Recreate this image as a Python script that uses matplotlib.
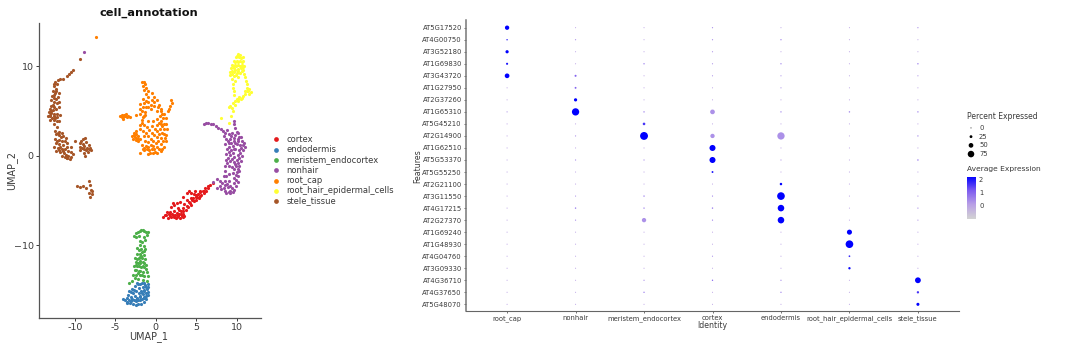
import matplotlib
matplotlib.use('Agg')
import matplotlib.pyplot as plt
import numpy as np
from matplotlib.colors import LinearSegmentedColormap

# UMAP clusters, points (x, y)
cortex = [(0.95,-6.9),(1.3,-6.6),(1.5,-6.95),(1.4,-6.3),(1.7,-6.7),(1.9,-6.9),(1.8,-6.3),(1.9,-5.7),(2.0,-6.5),(2.2,-6.8),
          (2.2,-6.2),(2.3,-5.5),(2.4,-6.6),(2.5,-7.0),(2.6,-6.4),(2.7,-5.9),(2.8,-6.8),(2.9,-6.5),(3.0,-7.0),(3.1,-6.2),
          (3.2,-6.7),(3.3,-5.9),(3.4,-6.5),(3.5,-6.8),(3.5,-5.4),(3.0,-5.2),(2.6,-5.3),(3.7,-6.1),(3.8,-4.2),(4.0,-5.7),
          (4.1,-4.0),(4.2,-5.3),(4.4,-4.2),(4.4,-5.5),(4.5,-4.9),(4.7,-5.1),(4.7,-4.3),(4.9,-4.6),(5.0,-4.9),(5.2,-4.3),
          (5.3,-4.7),(5.5,-4.1),(5.6,-4.4),(5.8,-3.9),(5.9,-4.2),(6.1,-3.6),(6.2,-3.9),(6.4,-3.4),(6.7,-3.3),(7.0,-3.1),
          (4.8,-4.0),(5.4,-3.9),(3.8,-5.0),(3.4,-4.6),(4.3,-4.7),(1.1,-6.6),(2.1,-5.3),(5.0,-4.4),
          (1.6,-6.5),(2.1,-6.6),(2.3,-6.9),(2.7,-6.6),(2.6,-6.9),(3.1,-6.5),(3.3,-6.9),(2.9,-6.1),(3.4,-6.2),(3.8,-5.6),
          (4.1,-5.2),(4.6,-4.7),(5.1,-4.6),(5.5,-4.5),(6.0,-3.9),(6.5,-3.6)]
endodermis = [(-4.0,-16.0),(-3.8,-16.2),(-3.6,-15.9),(-3.5,-16.4),(-3.4,-15.6),(-3.3,-16.1),(-3.2,-16.5),(-3.1,-15.2),(-3.0,-15.8),(-3.0,-16.3),
              (-2.9,-14.9),(-2.8,-16.6),(-2.8,-15.4),(-2.7,-16.1),(-2.6,-14.6),(-2.6,-15.7),(-2.5,-16.7),(-2.4,-15.1),(-2.4,-16.3),(-2.3,-14.3),
              (-2.3,-15.9),(-2.2,-16.6),(-2.1,-14.8),(-2.1,-15.4),(-2.0,-16.2),(-1.9,-15.7),(-1.9,-14.4),(-1.8,-16.6),(-1.8,-15.1),(-1.7,-16.0),
              (-1.6,-14.7),(-1.6,-15.5),(-1.5,-16.4),(-1.4,-15.1),(-1.4,-15.8),(-1.3,-14.5),(-1.2,-16.0),(-1.2,-15.4),(-1.1,-14.9),(-1.0,-15.2),
              (-1.0,-14.4),(-0.9,-14.7),(-3.3,-15.1),(-2.7,-15.0),(-2.2,-14.4),(-0.95,-15.6),(-1.5,-14.2),(-3.6,-16.5),
              (-2.9,-16.0),(-2.5,-16.1),(-2.2,-16.2),(-2.0,-15.8),(-1.7,-15.4),(-1.5,-15.0),(-1.2,-14.7),(-1.5,-15.9),(-1.2,-15.7),(-1.7,-14.3)]
meristem = [(-2.7,-9.0),(-2.5,-8.7),(-2.4,-9.1),(-2.2,-8.5),(-2.0,-8.4),(-1.8,-8.3),(-1.6,-8.3),(-1.4,-8.4),(-1.2,-8.5),(-1.0,-8.5),
            (-2.1,-9.0),(-1.1,-8.9),(-1.4,-9.1),(-1.3,-9.4),(-2.0,-9.5),(-1.7,-9.7),(-2.0,-10.0),(-1.5,-10.1),(-1.8,-10.4),(-2.1,-10.6),
            (-1.5,-10.7),(-2.3,-11.0),(-1.9,-11.0),(-1.4,-11.1),(-2.6,-11.4),(-2.1,-11.5),(-1.7,-11.5),(-1.3,-11.6),(-2.5,-11.9),(-2.0,-12.0),
            (-1.5,-12.0),(-1.2,-12.2),(-2.7,-12.3),(-2.3,-12.4),(-1.8,-12.5),(-1.4,-12.5),(-2.6,-12.8),(-2.1,-12.9),(-1.6,-13.0),(-1.1,-13.0),
            (-2.8,-13.3),(-2.4,-13.3),(-1.9,-13.4),(-1.4,-13.5),(-1.0,-13.5),(-2.6,-13.7),(-2.2,-13.8),(-1.6,-13.9),(-1.1,-14.0),(-3.3,-14.2),
            (-2.9,-14.0),(-1.3,-10.4),(-2.3,-10.3),(-1.6,-11.9),(-2.2,-12.0),(-1.9,-12.9),(-1.2,-12.7),(-2.4,-12.8),
            (-1.8,-11.2),(-2.3,-11.6),(-1.9,-11.8),(-2.1,-12.4),(-2.5,-12.2),(-1.6,-12.3),(-1.7,-10.8),(-2.0,-11.3),(-1.7,-13.3),(-2.2,-13.1)]
nonhair = [(5.9,3.6),(6.2,3.7),(6.5,3.65),(6.8,3.6),(7.1,3.5),(7.4,3.35),(7.7,3.15),(8.0,3.0),(8.3,2.8),(8.6,2.55),(8.4,2.2),(8.8,2.9),
           (9.6,3.9),(9.7,3.5),(9.8,3.1),(10.0,2.7),(9.0,2.4),(9.4,2.6),(9.8,2.3),(10.2,2.5),(10.5,2.1),(8.7,1.9),(9.2,1.9),(9.7,1.7),
           (10.1,1.9),(10.6,1.6),(8.6,1.3),(9.0,1.4),(9.5,1.1),(10.0,1.3),(10.4,1.2),(10.9,1.4),(11.0,1.0),(8.8,0.8),(9.3,0.6),(9.8,0.7),
           (10.3,0.6),(10.7,0.6),(8.7,0.2),(9.2,0.1),(9.6,-0.1),(10.1,0.1),(10.6,0.0),(8.7,-0.5),(9.1,-0.6),(9.6,-0.7),(10.0,-0.5),(10.5,-0.6),
           (8.6,-1.1),(9.0,-1.2),(9.4,-1.3),(9.9,-1.2),(10.3,-1.2),(8.5,-1.7),(9.0,-2.0),(9.5,-1.9),(10.0,-1.8),(10.3,-1.7),(8.4,-2.3),(9.6,-2.5),
           (10.2,-2.3),(8.5,-2.8),(9.0,-2.8),(9.6,-3.0),(10.1,-2.9),(7.1,-2.9),(7.5,-2.6),(7.9,-2.8),(8.2,-3.1),(8.6,-3.3),(9.2,-3.4),(9.9,-3.4),
           (7.6,-3.6),(8.1,-3.7),(8.6,-3.9),(9.1,-3.9),(9.6,-3.8),(8.7,-4.2),(9.2,-4.2),(9.5,-4.1),(8.9,-3.5),(-8.8,11.6),
           (9.3,2.2),(9.6,2.0),(10.3,2.1),(8.9,1.6),(9.3,1.4),(9.8,1.4),(10.2,1.6),(10.7,1.2),(9.0,1.0),(9.6,0.8),(10.5,0.9),(9.0,0.4),
           (9.5,0.3),(10.4,0.3),(8.9,-0.2),(9.4,-0.4),(10.3,-0.2),(8.8,-0.8),(9.8,-0.9),(10.2,-0.8),(9.7,-1.5),(10.1,-1.5),(8.7,-2.3),(9.9,-2.2),
           (9.9,-2.7),(8.8,-3.2),(9.4,-3.6),(8.4,-3.6),(7.9,-3.4),(9.0,-4.1)]
root_cap = [(-1.7,8.2),(-1.5,8.2),(-1.3,8.0),(-1.6,7.8),(-1.2,7.6),(-1.4,7.4),(-0.9,7.3),(-0.5,7.0),(-1.2,6.9),(-0.2,6.6),(-0.9,6.6),(-1.6,6.4),
            (0.1,6.2),(-0.5,6.2),(-1.2,6.1),(-1.9,5.8),(0.4,5.7),(-0.2,5.6),(-0.9,5.5),(-1.6,5.4),(-2.0,5.2),(0.7,5.2),(0.1,5.0),(-0.6,5.2),
            (-1.3,4.9),(-1.9,4.7),(1.0,4.7),(0.5,4.5),(-1.6,4.3),(1.2,4.2),(0.7,3.9),(0.2,4.1),(-0.4,3.9),(-1.0,3.9),(-1.7,3.7),(1.3,3.6),
            (0.8,3.3),(0.2,3.4),(-0.5,3.3),(-1.1,3.2),(-1.9,3.0),(1.35,3.0),(0.8,2.6),(0.2,2.8),(-0.5,2.6),(-1.2,2.5),(1.3,2.3),(0.7,2.0),
            (0.1,2.1),(-0.6,1.9),(-1.3,1.7),(1.2,1.7),(0.6,1.3),(0.0,1.4),(-0.6,1.2),(-1.2,1.1),(-1.7,1.2),(1.0,1.0),(0.4,0.7),(-0.2,0.7),
            (-0.8,0.6),(-1.4,0.6),(0.7,0.5),(0.2,0.3),(-0.4,0.3),(-1.0,0.25),(-1.9,0.3),(-2.9,2.2),(-2.7,2.6),(-2.8,1.9),(-2.5,2.4),(-2.5,1.8),
            (-2.2,2.2),(-2.2,1.6),(-1.9,1.9),(-2.4,2.8),(-2.0,3.4),(-4.4,4.4),(-4.2,4.6),(-4.0,4.3),(-3.8,4.5),(-3.6,4.3),(-3.4,4.5),(-3.2,4.3),
            (-4.1,4.1),(-3.7,4.7),(-2.5,4.6),(2.0,5.9),(1.9,6.2),(1.8,5.6),(1.6,5.2),(1.5,5.0),(-7.4,13.3),
            (-0.2,6.0),(0.3,5.4),(-0.9,6.0),(-1.5,5.9),(0.8,4.7),(0.6,5.0),(-1.7,5.0),(-1.4,4.4),(0.9,4.2),(0.4,3.7),(1.0,3.6),(1.0,3.0),
            (0.5,3.0),(-1.5,3.4),(-1.6,2.8),(1.0,2.4),(0.4,2.4),(-0.2,2.3),(-0.9,2.2),(0.9,1.6),(0.3,1.7),(-0.3,1.6),(-1.0,1.5),(0.8,0.8),
            (0.1,1.0),(-0.5,0.8),(-1.1,0.7),(-0.1,0.4),(-0.7,0.3),(-1.4,0.9),(-2.6,2.1),(-2.4,2.0),(-2.2,1.9),(-2.7,2.3),(-4.2,4.3),(-3.9,4.6),
            (-0.6,5.7),(-1.2,5.4),(-1.3,4.6),(-1.7,4.0),(-0.1,3.0),(-0.8,2.9),(-1.5,2.2),(0.6,3.6),(1.1,2.0),(-0.3,1.1),(-0.9,1.0),(-1.6,0.8)]
root_hair = [(10.2,11.4),(10.4,11.3),(9.9,11.0),(10.3,11.0),(10.7,11.0),(9.6,10.6),(10.0,10.6),(10.4,10.6),(10.8,10.6),(9.4,10.2),(9.8,10.2),(10.2,10.2),
             (10.6,10.2),(10.9,10.1),(9.3,9.8),(9.7,9.8),(10.1,9.7),(10.5,9.8),(10.8,9.6),(9.2,9.4),(9.6,9.4),(10.0,9.3),(10.4,9.3),(10.9,9.2),
             (9.2,9.0),(9.6,8.9),(10.2,8.8),(11.0,8.8),(9.4,8.6),(9.8,8.4),(11.1,8.4),(9.5,8.0),(11.2,8.0),(9.5,7.6),(11.3,7.6),(11.0,7.3),
             (11.4,7.3),(11.7,7.1),(11.5,6.9),(9.6,7.2),(11.0,6.9),(10.7,6.7),(9.7,6.8),(10.3,6.6),(10.0,6.4),(10.5,6.3),(9.8,6.1),(10.2,6.1),
             (9.5,5.9),(9.8,5.7),(9.2,5.6),(9.0,5.4),(9.4,5.3),(9.5,5.0),(8.0,4.2),(9.3,4.5),(9.0,3.7),
             (10.0,11.2),(10.5,10.9),(9.8,10.5),(10.2,10.5),(10.6,10.5),(9.5,10.0),(9.9,10.0),(10.4,10.0),(10.7,9.9),(9.4,9.5),(9.8,9.6),(10.2,9.5),
             (10.6,9.5),(9.4,9.1),(9.9,9.0),(11.2,7.2),(11.5,7.5),(10.6,6.5),(10.1,6.3)]
stele = [(-10.2,9.6),(-10.4,9.4),(-10.7,9.1),(-11.0,8.9),(-11.4,8.6),(-11.8,8.6),(-12.1,8.5),(-12.4,8.3),(-12.2,8.0),(-12.6,7.8),(-12.3,7.5),(-12.7,7.2),
         (-12.4,7.0),(-12.8,6.7),(-12.5,6.5),(-12.1,6.6),(-12.9,6.2),(-12.6,6.0),(-12.2,5.9),(-12.9,5.6),(-12.5,5.5),(-13.0,5.2),(-12.7,5.1),(-12.3,5.2),
         (-13.2,4.9),(-12.9,4.8),(-12.5,4.7),(-12.2,4.7),(-13.3,4.5),(-13.0,4.4),(-12.6,4.4),(-12.2,4.3),(-13.0,4.0),(-12.6,4.0),(-12.2,3.9),(-12.5,3.6),
         (-12.2,3.2),(-12.4,2.8),(-12.0,2.7),(-11.6,2.6),(-12.3,2.4),(-11.9,2.3),(-11.5,2.2),(-11.1,2.0),(-12.4,1.9),(-12.0,1.8),(-11.6,1.7),(-12.3,1.4),
         (-11.9,1.3),(-11.4,1.2),(-11.0,1.4),(-12.5,1.0),(-12.1,0.9),(-11.6,0.8),(-11.2,0.7),(-12.3,0.5),(-11.8,0.4),(-11.3,0.3),(-10.8,0.5),(-11.6,0.0),
         (-11.2,-0.1),(-10.8,0.0),(-10.4,-0.1),(-11.0,-0.3),(-10.6,-0.4),(-10.5,1.0),(-10.0,1.7),(-9.4,1.4),(-9.0,1.9),(-8.7,2.0),(-9.4,1.0),(-9.0,1.3),
         (-8.6,1.5),(-8.3,1.2),(-9.3,0.6),(-8.9,0.8),(-8.5,0.9),(-8.1,0.9),(-8.9,0.3),(-8.4,0.4),(-8.0,0.6),(-8.7,0.0),(-9.3,10.8),(-9.7,-3.4),
         (-9.3,-3.5),(-9.0,-3.4),(-8.6,-3.6),(-8.2,-2.8),(-8.1,-3.3),(-8.0,-3.8),(-8.2,-4.2),(-7.9,-4.3),(-8.1,-4.6),(-7.9,-4.0),
         (-12.5,8.0),(-12.3,7.2),(-12.6,6.8),(-12.3,6.3),(-12.7,5.7),(-12.9,5.0),(-13.1,4.6),(-12.8,4.2),(-12.4,4.2),(-12.1,2.5),(-11.7,2.1),(-12.2,1.6),
         (-11.8,1.0),(-12.0,0.6),(-11.5,0.5),(-11.1,0.1),(-10.9,-0.2),(-9.2,1.6),(-8.8,1.1),(-8.6,0.6),(-8.3,0.7),(-9.1,0.9),
         (-11.9,7.0),(-12.0,6.0),(-11.9,5.4),(-11.8,4.6),(-11.9,3.9),(-11.2,1.7),(-10.9,1.0),(-10.5,0.4),(-10.2,0.2)]

cluster_names = ['cortex', 'endodermis', 'meristem_endocortex', 'nonhair', 'root_cap', 'root_hair_epidermal_cells', 'stele_tissue']
cluster_points = [cortex, endodermis, meristem, nonhair, root_cap, root_hair, stele]
cluster_colors = ['#E41A1C', '#377EB8', '#4DAF4A', '#984EA3', '#FF7F00', '#FFFF33', '#A65628']

# dot plot
identities = ['root_cap', 'nonhair', 'meristem_endocortex', 'cortex', 'endodermis', 'root_hair_epidermal_cells', 'stele_tissue']
genes = ['AT5G17520', 'AT4G00750', 'AT3G52180', 'AT1G69830', 'AT3G43720', 'AT1G27950', 'AT2G37260', 'AT1G65310',
         'AT5G45210', 'AT2G14900', 'AT1G62510', 'AT5G53370', 'AT5G55250', 'AT2G21100', 'AT3G11550', 'AT4G17215',
         'AT2G27370', 'AT1G69240', 'AT1G48930', 'AT4G04760', 'AT3G09330', 'AT4G36710', 'AT4G37650', 'AT5G48070']
pct = [[45, 1, 1, 3, 1, 1, 3],
       [6, 3, 1, 3, 4, 1, 1],
       [30, 1, 1, 2, 1, 1, 1],
       [15, 1, 5, 2, 4, 1, 5],
       [50, 14, 1, 2, 2, 1, 2],
       [1, 12, 1, 1, 2, 1, 1],
       [1, 30, 1, 1, 1, 1, 1],
       [2, 85, 5, 50, 4, 6, 5],
       [1, 1, 22, 1, 1, 1, 1],
       [1, 3, 93, 45, 85, 1, 4],
       [1, 1, 1, 68, 1, 1, 1],
       [1, 3, 3, 68, 2, 1, 6],
       [1, 1, 1, 12, 1, 1, 1],
       [1, 1, 1, 1, 20, 1, 1],
       [1, 2, 5, 3, 90, 1, 2],
       [1, 6, 5, 6, 75, 1, 3],
       [1, 3, 45, 3, 75, 1, 2],
       [1, 1, 1, 1, 1, 55, 1],
       [1, 1, 1, 1, 1, 90, 1],
       [1, 1, 1, 2, 1, 10, 1],
       [1, 1, 1, 1, 1, 18, 1],
       [1, 1, 3, 5, 3, 1, 65],
       [1, 1, 5, 1, 4, 1, 18],
       [1, 1, 1, 1, 1, 1, 28]]
avg = [[2.2, 0, 0, 0.4, 0, 0, 0.4],
       [1.8, 0.3, 0, 0.4, 0.6, 0, 0],
       [2.2, 0, 0, 0.3, 0, 0, 0],
       [2.0, 0, 0.6, 0.3, 0.6, 0, 0.7],
       [2.2, 1.0, 0, 0.3, 0.3, 0, 0.3],
       [0, 1.0, 0, 0, 0.3, 0, 0],
       [0, 2.2, 0, 0, 0, 0, 0],
       [0.3, 2.2, 0.6, 0.3, 0.6, 0.5, 0.6],
       [0, 0, 1.6, 0, 0, 0, 0],
       [0, 0.3, 2.2, 0.3, 0.3, 0, 0.5],
       [0, 0, 0, 2.2, 0, 0, 0],
       [0, 0.4, 0.4, 2.2, 0.3, 0, 0.7],
       [0, 0, 0, 2.0, 0, 0, 0],
       [0, 0, 0, 0, 2.2, 0, 0],
       [0, 0.3, 0.7, 0.5, 2.2, 0, 0.3],
       [0, 0.7, 0.6, 0.7, 2.2, 0, 0.4],
       [0, 0.4, 0.3, 0.6, 2.2, 0, 0.3],
       [0, 0, 0, 0, 0, 2.2, 0],
       [0, 0, 0, 0, 0, 2.2, 0],
       [0, 0, 0, 0.4, 0, 1.7, 0],
       [0, 0, 0, 0, 0, 2.1, 0],
       [0, 0, 0.4, 1.0, 0.5, 0, 2.2],
       [0, 0, 0.6, 0, 0.6, 0, 1.6],
       [0, 0, 0, 0, 0, 0, 2.2]]
legend_pct = [0, 25, 50, 75]
bar_ticks = [0, 1, 2]

FW, FH = 1080.0, 351.0
TXT = '#3a3a3a'


def box(x0, y0, x1, y1):
    # pixel box of the picture to figure fractions
    return [x0 / FW, 1 - y1 / FH, (x1 - x0) / FW, (y1 - y0) / FH]


def put(x, y, s, **kw):
    fig.text(x / FW, 1 - y / FH, s, va=kw.pop('va', 'center'), **kw)


def dot_area(p):
    # diameter in pixels -> area in points^2
    d = 1.0 + 0.074 * np.asarray(p, dtype=float)
    return (d * 0.72) ** 2


fig = plt.figure(figsize=(10.8, 3.51), dpi=100)

# left panel
ax = fig.add_axes(box(38.5, 23, 261, 318.3))
for name, pts, c in zip(cluster_names, cluster_points, cluster_colors):
    arr = np.array(pts)
    ax.scatter(arr[:, 0], arr[:, 1], s=5.2, color=c, linewidths=0, label=name)
ax.set_xlim(-14.47, 12.98)
ax.set_ylim(-18.2, 14.86)
ax.set_xticks([-10, -5, 0, 5, 10])
ax.set_xticklabels(['-10', '-5', '0', '5', '10'])
ax.set_yticks([-10, 0, 10])
ax.tick_params(labelsize=6.8, colors=TXT, length=2, width=0.7, pad=1.5)
for sp in ['top', 'right']:
    ax.spines[sp].set_visible(False)
for sp in ['left', 'bottom']:
    ax.spines[sp].set_color('#555555')
    ax.spines[sp].set_linewidth(0.9)
put(149, 13, 'cell_annotation', ha='center', fontsize=8.2, fontweight='bold', color='#111111')
put(149, 337, 'UMAP_1', ha='center', fontsize=6.9, color=TXT)
put(12, 171, 'UMAP_2', ha='center', rotation=90, fontsize=6.9, color=TXT)
ax.legend(loc='upper left', bbox_to_anchor=(267.4 / FW, 1 - 134.5 / FH), bbox_transform=fig.transFigure,
          frameon=False, fontsize=6.0, markerscale=1.5, labelspacing=0.16, handletextpad=0.26,
          borderpad=0, borderaxespad=0, labelcolor=TXT, scatterpoints=1)

# dot plot
cmap = LinearSegmentedColormap.from_list('expr', ['#d3d3d3', '#b9a0e6', '#7d5cf0', '#0000ff'])
ax2 = fig.add_axes(box(466, 20, 959, 311.3))
xx, yy = np.meshgrid(np.arange(len(identities)), np.arange(len(genes))[::-1])
ax2.scatter(xx.ravel(), yy.ravel(), s=dot_area(np.array(pct).ravel()), c=np.array(avg).ravel(),
            cmap=cmap, vmin=-1.0, vmax=2.2, linewidths=0)
ax2.set_xlim(-0.60, 6.60)
ax2.set_ylim(-0.58, 23.64)
ax2.set_xticks(range(len(identities)))
ax2.set_xticklabels(identities)
ax2.set_yticks(range(len(genes)))
ax2.set_yticklabels(genes[::-1])
ax2.tick_params(labelsize=4.9, colors=TXT, length=1.5, width=0.5, pad=1.5)
for sp in ['top', 'right']:
    ax2.spines[sp].set_visible(False)
ax2.spines['left'].set_color('#777777')
ax2.spines['left'].set_linewidth(1.1)
ax2.spines['bottom'].set_color('#666666')
ax2.spines['bottom'].set_linewidth(0.8)
put(712, 326, 'Identity', ha='center', fontsize=5.6, color=TXT)
put(418, 166, 'Features', ha='center', rotation=90, fontsize=5.6, color=TXT)

# size legend
put(966.7, 116.7, 'Percent Expressed', ha='left', fontsize=5.5, color=TXT)
ax3 = fig.add_axes(box(966, 124, 976, 158))
ax3.scatter([0] * 4, range(4), s=dot_area(legend_pct), color='black', linewidths=0)
ax3.set_xlim(-1, 1)
ax3.set_ylim(3.45, -0.45)
ax3.axis('off')
for i, p in enumerate(legend_pct):
    put(979, 128.3 + i * 8.47, str(p), ha='left', fontsize=4.9, color=TXT)

# colour legend
put(966.7, 169.3, 'Average Expression', ha='left', fontsize=5.4, color=TXT)
ax4 = fig.add_axes(box(966.7, 176.7, 975, 219))
grad = np.linspace(2.2, -1.0, 64).reshape(-1, 1)
ax4.imshow(grad, aspect='auto', cmap=cmap, vmin=-1.0, vmax=2.2, extent=[0, 1, -1.0, 2.25])
ax4.axis('off')
for t in bar_ticks:
    put(979, 206 - t * 13, str(t), ha='left', fontsize=4.9, color=TXT)

plt.savefig('out.png', dpi=100)
